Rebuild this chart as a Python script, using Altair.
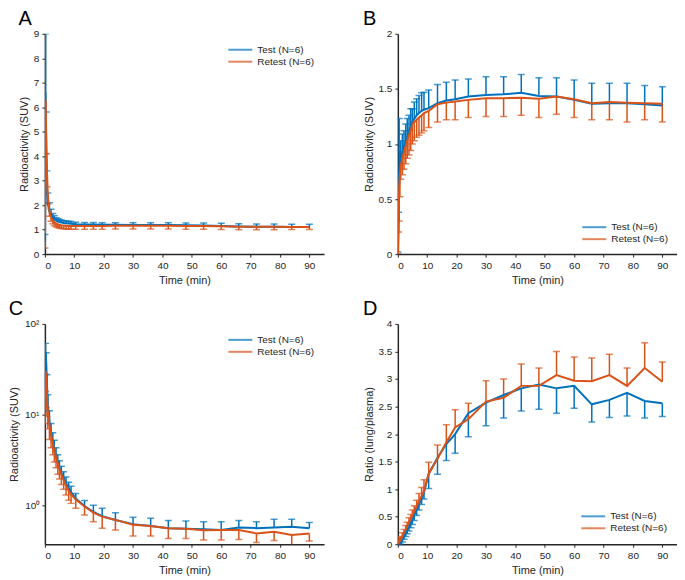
import altair as alt
import pandas as pd

# ---------------- data ----------------
times = [0.05, 0.25, 0.45, 0.7, 1.0, 1.55, 2.1, 2.7, 3.2, 3.8, 4.4, 4.95, 5.6, 6.4, 7.2, 8.1, 8.9,
         10.5, 13.5, 16.5, 19.5, 24, 30, 36, 42, 48, 54, 60, 66, 72, 78, 84, 90]

# Panel A: radioactivity (SUV), linear
a_test_mean = [0.5, 6.6, 4.3, 2.7, 2.05, 1.75, 1.58, 1.48, 1.42, 1.37, 1.33, 1.31, 1.29, 1.27, 1.26, 1.25, 1.24,
               1.22, 1.21, 1.21, 1.2, 1.2, 1.19, 1.19, 1.19, 1.18, 1.17, 1.15, 1.13, 1.12, 1.12, 1.11, 1.11]
a_test_sd = [0.3, 2.4, 1.5, 0.7, 0.45, 0.35, 0.25, 0.18, 0.15, 0.12, 0.11, 0.1, 0.1, 0.09, 0.09, 0.09, 0.09,
             0.08, 0.08, 0.08, 0.08, 0.08, 0.09, 0.09, 0.09, 0.09, 0.1, 0.11, 0.11, 0.11, 0.11, 0.11, 0.11]
a_retest_mean = [0.85, 6.3, 4.9, 3.4, 2.4, 1.75, 1.5, 1.38, 1.3, 1.25, 1.22, 1.2, 1.18, 1.17, 1.16, 1.15, 1.15,
                 1.15, 1.15, 1.15, 1.15, 1.16, 1.16, 1.16, 1.16, 1.15, 1.15, 1.14, 1.12, 1.12, 1.12, 1.11, 1.11]
a_retest_sd = [0.6, 2.2, 0.8, 0.65, 0.35, 0.2, 0.16, 0.14, 0.13, 0.13, 0.13, 0.13, 0.13, 0.13, 0.13, 0.13, 0.13,
               0.13, 0.13, 0.13, 0.13, 0.13, 0.13, 0.13, 0.13, 0.13, 0.13, 0.13, 0.12, 0.12, 0.12, 0.1, 0.1]

# Panel B: radioactivity (SUV), lung
b_test_mean = [0.0, 0.3, 0.7, 0.8, 0.87, 0.93, 0.98, 1.03, 1.07, 1.12, 1.16, 1.2, 1.23, 1.26, 1.28, 1.3, 1.31,
               1.325, 1.37, 1.395, 1.405, 1.43, 1.445, 1.45, 1.465, 1.435, 1.43, 1.4, 1.365, 1.37, 1.37, 1.36, 1.35]
b_test_sd = [0.02, 0.08, 0.53, 0.13, 0.16, 0.16, 0.14, 0.15, 0.16, 0.14, 0.16, 0.12, 0.15, 0.15, 0.16, 0.165, 0.16,
             0.165, 0.17, 0.165, 0.175, 0.16, 0.165, 0.16, 0.165, 0.165, 0.17, 0.18, 0.185, 0.18, 0.18, 0.17, 0.17]
b_retest_mean = [0.0, 0.35, 0.6, 0.72, 0.8, 0.87, 0.93, 0.98, 1.03, 1.08, 1.12, 1.18, 1.2, 1.22, 1.24, 1.26, 1.28,
                 1.3, 1.36, 1.375, 1.385, 1.4, 1.415, 1.415, 1.42, 1.41, 1.43, 1.405, 1.37, 1.38, 1.375, 1.37, 1.365]
b_retest_sd = [0.0, 0.15, 0.3, 0.2, 0.12, 0.15, 0.16, 0.16, 0.16, 0.18, 0.18, 0.18, 0.17, 0.16, 0.16, 0.16, 0.16,
               0.15, 0.16, 0.155, 0.165, 0.16, 0.165, 0.165, 0.16, 0.17, 0.16, 0.165, 0.15, 0.16, 0.175, 0.15, 0.165]

# Panel C: radioactivity (SUV), log scale
c_test_mean = [20, 45, 38, 22, 13, 8.5, 6.3, 5.0, 4.2, 3.5, 3.0, 2.6, 2.3, 2.0, 1.75, 1.55, 1.4,
               1.19, 0.98, 0.845, 0.76, 0.69, 0.62, 0.59, 0.56, 0.55, 0.545, 0.535, 0.57, 0.56, 0.57, 0.58, 0.56]
c_test_sd = [8, 16, 10, 5.5, 3.6, 2.5, 1.7, 1.3, 1.0, 0.8, 0.6, 0.5, 0.4, 0.35, 0.3, 0.25, 0.22,
             0.16, 0.15, 0.155, 0.17, 0.14, 0.12, 0.13, 0.12, 0.12, 0.115, 0.125, 0.11, 0.1, 0.13, 0.12, 0.085]
c_retest_mean = [15, 30, 25, 17, 11, 7.8, 6.0, 4.8, 4.0, 3.4, 2.9, 2.5, 2.2, 1.9, 1.65, 1.45, 1.32,
                 1.16, 0.97, 0.83, 0.75, 0.69, 0.61, 0.59, 0.56, 0.55, 0.53, 0.535, 0.535, 0.49, 0.51, 0.47, 0.49]
c_retest_sd = [7, 12, 13, 7.5, 4, 2.5, 1.7, 1.2, 1.0, 0.8, 0.7, 0.55, 0.5, 0.4, 0.35, 0.31, 0.27,
               0.23, 0.19, 0.17, 0.19, 0.155, 0.15, 0.13, 0.13, 0.12, 0.115, 0.12, 0.115, 0.1, 0.1, 0.11, 0.085]

# Panel D: ratio lung/plasma
d_test_mean = [0.0, 0.0, 0.0, 0.0, 0.02, 0.08, 0.14, 0.2, 0.26, 0.32, 0.39, 0.45, 0.53, 0.62, 0.72, 0.83, 0.94,
               1.28, 1.57, 1.82, 2.0, 2.38, 2.57, 2.71, 2.83, 2.9, 2.83, 2.875, 2.54, 2.62, 2.75, 2.6, 2.56]
d_test_sd = [0.0, 0.0, 0.0, 0.01, 0.02, 0.04, 0.05, 0.06, 0.07, 0.08, 0.09, 0.09, 0.1, 0.1, 0.1, 0.11, 0.12,
             0.27, 0.3, 0.3, 0.35, 0.43, 0.42, 0.42, 0.41, 0.45, 0.45, 0.405, 0.32, 0.32, 0.42, 0.31, 0.24]
d_retest_mean = [0.0, 0.02, 0.04, 0.06, 0.09, 0.15, 0.21, 0.27, 0.33, 0.4, 0.46, 0.52, 0.6, 0.69, 0.78, 0.88, 0.97,
                 1.28, 1.55, 1.85, 2.12, 2.27, 2.59, 2.66, 2.875, 2.875, 3.07, 2.97, 2.96, 3.07, 2.875, 3.2, 2.95]
d_retest_sd = [0.02, 0.04, 0.05, 0.06, 0.05, 0.06, 0.06, 0.07, 0.07, 0.08, 0.08, 0.1, 0.1, 0.11, 0.14, 0.15, 0.2,
               0.21, 0.25, 0.32, 0.32, 0.29, 0.38, 0.34, 0.395, 0.325, 0.43, 0.43, 0.42, 0.38, 0.325, 0.46, 0.36]

series_names = ["Test (N=6)", "Retest (N=6)"]
series_colors = ["#0072BD", "#D95319"]

x_ticks = [0, 10, 20, 30, 40, 50, 60, 70, 80, 90]
a_ticks = [0, 1, 2, 3, 4, 5, 6, 7, 8, 9]
b_ticks = [0, 0.5, 1, 1.5, 2]
c_ticks = [1, 10, 100]
d_ticks = [0, 0.5, 1, 1.5, 2, 2.5, 3, 3.5, 4]

FONT = "Liberation Sans"
W, H = 280, 221


def make_df(test_m, test_s, re_m, re_s, test_sign, re_sign):
    rows = []
    for t, m, s in zip(times, test_m, test_s):
        rows.append({"time": t, "series": series_names[0], "mean": m, "cap": m + test_sign * s})
    for t, m, s in zip(times, re_m, re_s):
        rows.append({"time": t, "series": series_names[1], "mean": m, "cap": m + re_sign * s})
    return pd.DataFrame(rows)


def panel(df, letter, ytitle, yscale, yaxis, legend_orient, legend_offset):
    x = alt.X("time:Q", scale=alt.Scale(domain=[0, 95], nice=False, zero=False),
              axis=alt.Axis(values=x_ticks, title="Time (min)"))
    legend = alt.Legend(title=None, orient=legend_orient, offset=legend_offset,
                        symbolType="stroke", symbolSize=576, symbolStrokeWidth=2,
                        labelFontSize=10, labelFont=FONT, labelColor="#262626",
                        labelOffset=4, rowPadding=0, clipHeight=12, padding=0)
    color = alt.Color("series:N", scale=alt.Scale(domain=series_names, range=series_colors),
                      legend=legend)
    base = alt.Chart(df)
    rules = base.mark_rule(strokeWidth=1.5, clip=True).encode(
        x=x, y=alt.Y("mean:Q", scale=yscale, axis=yaxis, title=ytitle), y2="cap:Q", color=color)
    caps = base.mark_tick(orient="horizontal", size=7, thickness=1.5, clip=True).encode(
        x=x, y=alt.Y("cap:Q", scale=yscale, axis=yaxis, title=ytitle), color=color)
    lines = base.mark_line(strokeWidth=2, clip=True).encode(
        x=x, y=alt.Y("mean:Q", scale=yscale, axis=yaxis, title=ytitle), color=color, order="time:Q")
    return alt.layer(rules, caps, lines).properties(
        width=W, height=H,
        title=alt.TitleParams(text=letter, anchor="start", fontSize=20, fontWeight="normal",
                              font=FONT, color="black", offset=0))


df_a = make_df(a_test_mean, a_test_sd, a_retest_mean, a_retest_sd, 1, -1)
df_b = make_df(b_test_mean, b_test_sd, b_retest_mean, b_retest_sd, 1, -1)
df_c = make_df(c_test_mean, c_test_sd, c_retest_mean, c_retest_sd, 1, -1)
df_d = make_df(d_test_mean, d_test_sd, d_retest_mean, d_retest_sd, -1, 1)

pa = panel(df_a, "A", "Radioactivity (SUV)",
           alt.Scale(domain=[0, 9], nice=False),
           alt.Axis(values=a_ticks, format="~g", labelOverlap=False), "top-right", 10)
pb = panel(df_b, "B", "Radioactivity (SUV)",
           alt.Scale(domain=[0, 2], nice=False),
           alt.Axis(values=b_ticks, format="~g", labelOverlap=False), "bottom-right", 9)
pc = panel(df_c, "C", "Radioactivity (SUV)",
           alt.Scale(type="log", domain=[0.372, 100], nice=False),
           alt.Axis(values=c_ticks, labelOverlap=False,
                    labelExpr="datum.value == 1 ? '10\u2070' : (datum.value == 10 ? '10\u00b9' : '10\u00b2')"),
           "top-right", 10)
pd_ = panel(df_d, "D", "Ratio (lung/plasma)",
            alt.Scale(domain=[0, 4], nice=False),
            alt.Axis(values=d_ticks, format="~g", labelOverlap=False), "bottom-right", 10)

chart = alt.concat(pa, pb, pc, pd_, columns=2, spacing=alt.RowColnumber(row=14, column=39)).resolve_scale(
    x="independent", y="independent", color="independent"
).resolve_legend(color="independent").properties(padding=0).configure_view(stroke=None).configure_axis(
    grid=False, domainColor="#262626", domainWidth=1.5, tickColor="#262626", tickWidth=1, tickSize=3,
    labelColor="#262626", labelFont=FONT, labelFontSize=10, labelPadding=3,
    titleColor="#262626", titleFont=FONT, titleFontSize=11, titleFontWeight="normal", titlePadding=4
)

chart.save("out.html", embed_options={"renderer": "svg", "actions": False})
